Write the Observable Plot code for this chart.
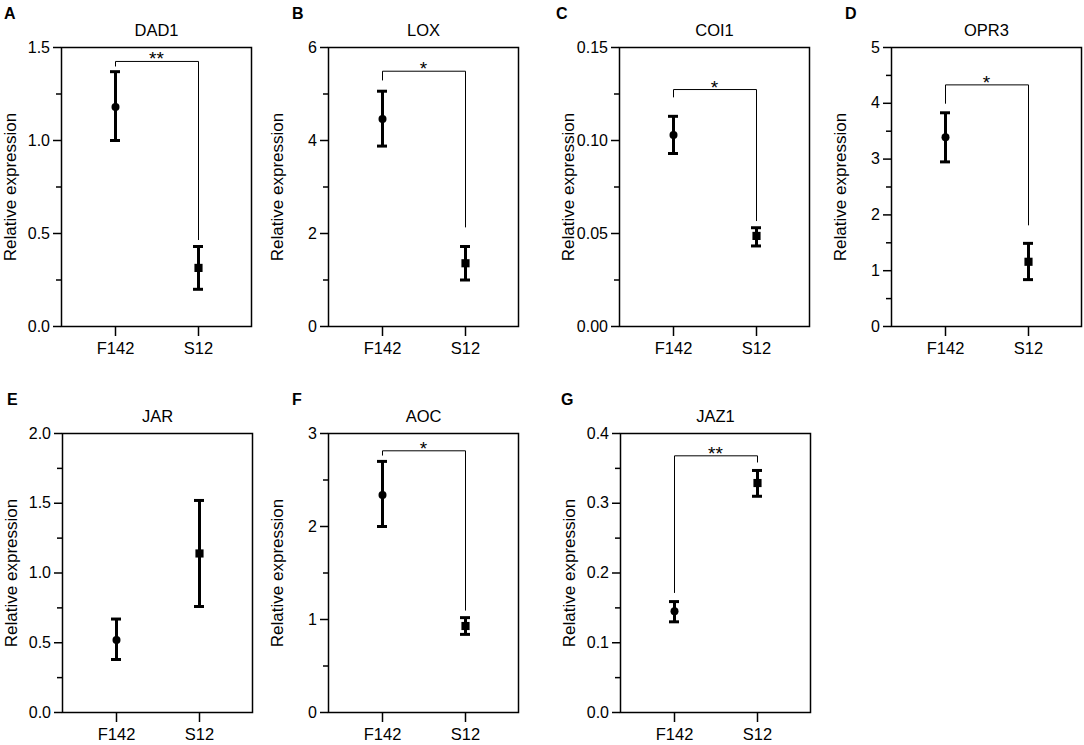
<!DOCTYPE html>
<html>
<head>
<meta charset="utf-8">
<script src="https://cdn.jsdelivr.net/npm/d3@7"></script>
<script src="https://cdn.jsdelivr.net/npm/@observablehq/plot@0.6"></script>
<style>
  body { margin: 0; background: #fff; }
  #fig { position: relative; width: 1084px; height: 745px; overflow: hidden; background: #fff;
         font-family: "Liberation Sans", Arial, sans-serif; color: #000; }
  .panel { position: absolute; }
  .letter { position: absolute; font-weight: bold; font-size: 16px; line-height: 16px; color: #000; }
</style>
</head>
<body>
<div id="fig"></div>
<script>
// ---- data ----
const letters = ["A", "B", "C", "D", "E", "F", "G"];
const genes = ["DAD1", "LOX", "COI1", "OPR3", "JAR", "AOC", "JAZ1"];
const groups = ["F142", "S12"];

const meanF142 = [1.18, 4.46, 0.103, 3.39, 0.52, 2.34, 0.145];
const lowF142  = [1.00, 3.88, 0.093, 2.95, 0.38, 2.00, 0.130];
const highF142 = [1.37, 5.06, 0.113, 3.83, 0.67, 2.70, 0.159];

const meanS12 = [0.315, 1.36, 0.0487, 1.16, 1.14, 0.93, 0.329];
const lowS12  = [0.20, 1.00, 0.0433, 0.84, 0.76, 0.84, 0.310];
const highS12 = [0.43, 1.72, 0.0531, 1.49, 1.52, 1.02, 0.347];

const yMax = [1.5, 6, 0.15, 5, 2.0, 3, 0.4];
const majorTicks = [
  [0, 0.5, 1.0, 1.5], [0, 2, 4, 6], [0, 0.05, 0.10, 0.15], [0, 1, 2, 3, 4, 5],
  [0, 0.5, 1.0, 1.5, 2.0], [0, 1, 2, 3], [0, 0.1, 0.2, 0.3, 0.4]
];
const minorTicks = [
  [0.25, 0.75, 1.25], [1, 3, 5], [0.025, 0.075, 0.125], [0.5, 1.5, 2.5, 3.5, 4.5],
  [0.25, 0.75, 1.25, 1.75], [0.5, 1.5, 2.5], [0.05, 0.15, 0.25, 0.35]
];
const tickDecimals = [1, 0, 2, 0, 1, 0, 1];

const significance = ["**", "*", "*", "*", "", "*", "**"];
const bracketTop   = [1.425, 5.49, 0.1274, 4.33, null, 2.814, 0.368];
const bracketLeft  = [1.40, 5.30, 0.1234, 4.00, null, 2.767, 0.172];
const bracketRight = [0.467, 2.14, 0.0569, 1.82, null, 1.10, 0.359];

const yLabel = "Relative expression";

// ---- layout (page positions of each panel svg and its letter) ----
const layout = [
  {left: 1,   top: 0,     lx: 4,   ly: 5.8},
  {left: 268, top: 0,     lx: 292, ly: 5.8},
  {left: 559, top: 0,     lx: 556, ly: 5.8},
  {left: 831, top: 0,     lx: 845, ly: 5.8},
  {left: 2,   top: 385.5, lx: 7,   ly: 391.5},
  {left: 268, top: 385.5, lx: 292, ly: 391.5},
  {left: 560, top: 385.5, lx: 561, ly: 391.5}
];

const fig = document.getElementById("fig");
const font = '"Liberation Sans", Arial, sans-serif';

for (let i = 0; i < genes.length; i++) {
  const data = [
    {group: groups[0], mean: meanF142[i], low: lowF142[i], high: highF142[i]},
    {group: groups[1], mean: meanS12[i], low: lowS12[i], high: highS12[i]}
  ];
  const marks = [
    Plot.frame({stroke: "#000", strokeWidth: 1.5}),
    Plot.axisY({ticks: majorTicks[i], tickSize: 8, tickPadding: 3.5, strokeWidth: 1.5,
                tickFormat: d => d.toFixed(tickDecimals[i]), fontSize: 16, label: null}),
    Plot.axisY({ticks: minorTicks[i], tickSize: 5, strokeWidth: 1.5, tickFormat: () => "", label: null}),
    Plot.axisX({tickSize: 10, tickPadding: 6, strokeWidth: 1.5, fontSize: 16.5, label: null}),
    Plot.ruleX(data, {x: "group", y1: "low", y2: "high", stroke: "#000", strokeWidth: 3}),
    Plot.tickY(data, {x: "group", y: "low", stroke: "#000", strokeWidth: 3, insetLeft: 16, insetRight: 16}),
    Plot.tickY(data, {x: "group", y: "high", stroke: "#000", strokeWidth: 3, insetLeft: 16, insetRight: 16}),
    Plot.dot(data.filter(d => d.group === "F142"), {x: "group", y: "mean", symbol: "circle", r: 4, fill: "#000"}),
    Plot.dot(data.filter(d => d.group === "S12"), {x: "group", y: "mean", symbol: "square", r: 4.6, fill: "#000"}),
    Plot.text([genes[i]], {frameAnchor: "top", textAnchor: "middle", lineAnchor: "bottom", dy: -12,
                           fontSize: 16.5, fill: "#000"}),
    Plot.text([yLabel], {frameAnchor: "left", textAnchor: "middle", lineAnchor: "middle", rotate: -90,
                         dx: -50.5, fontSize: 17, fill: "#000"})
  ];
  if (bracketTop[i] != null) {
    const pts = [
      {group: groups[0], v: bracketLeft[i]},
      {group: groups[0], v: bracketTop[i]},
      {group: groups[1], v: bracketTop[i]},
      {group: groups[1], v: bracketRight[i]}
    ];
    marks.push(Plot.line(pts, {x: "group", y: "v", stroke: "#000", strokeWidth: 1}));
    marks.push(Plot.text([significance[i]], {y: [bracketTop[i]], text: d => d, textAnchor: "middle",
                                             lineAnchor: "bottom", dy: 4, fontSize: 19, fill: "#000"}));
  }
  const chart = Plot.plot({
    width: 253, height: 366,
    marginLeft: 60, marginRight: 3, marginTop: 47, marginBottom: 40,
    x: {type: "band", domain: groups, paddingInner: 0.5, paddingOuter: 0.3945},
    y: {domain: [0, yMax[i]]},
    style: {fontFamily: font, fontSize: "16px", color: "#000", background: "transparent", overflow: "visible"},
    marks
  });
  chart.classList.add("panel");
  chart.style.left = layout[i].left + "px";
  chart.style.top = layout[i].top + "px";
  fig.appendChild(chart);

  const lab = document.createElement("div");
  lab.className = "letter";
  lab.textContent = letters[i];
  lab.style.left = layout[i].lx + "px";
  lab.style.top = layout[i].ly + "px";
  fig.appendChild(lab);
}
</script>
</body>
</html>
